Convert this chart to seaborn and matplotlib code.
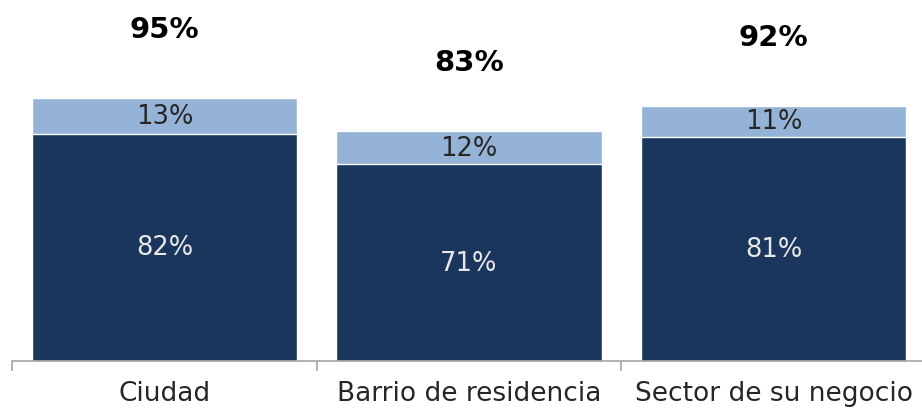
import matplotlib
matplotlib.use("Agg")
import matplotlib.pyplot as plt
import seaborn as sns
import pandas as pd

# Data
categories = ["Ciudad", "Barrio de residencia", "Sector de su negocio"]
base_values = [82, 71, 81]      # dark segment
top_values = [13, 12, 11]       # light segment
totals = [95, 83, 92]

dark = "#1B365D"
light = "#95B3D7"

sns.set_theme(style="white")
plt.rcParams['font.family'] = ['DejaVu Sans']

df = pd.DataFrame({"cat": categories, "base": base_values,
                   "top": top_values, "total": totals})

fig = plt.figure(figsize=(9.22, 4.14), dpi=100)
ax = fig.add_axes([12 / 922, 52 / 414, 914 / 922, 362 / 414])

# stacked bars: draw totals in light, then base in dark over it
sns.barplot(data=df, x="cat", y="total", color=light, width=0.87,
            saturation=1, ax=ax)
sns.barplot(data=df, x="cat", y="base", color=dark, width=0.87,
            saturation=1, ax=ax)

for i, row in df.iterrows():
    ax.text(i, row["base"] / 2, f"{row['base']}%", ha="center", va="center",
            fontsize=18.5, color="#E8E8E8")
    ax.text(i, row["base"] + row["top"] / 2, f"{row['top']}%", ha="center",
            va="center", fontsize=18.5, color="#262626")
    ax.text(i, row["total"] + 25, f"{row['total']}%", ha="center",
            va="center", fontsize=21, fontweight="bold", color="black")

ax.set_xlim(-0.5, 2.5)
ax.set_ylim(0, 130.7)
ax.set_xlabel("")
ax.set_ylabel("")
ax.set_yticks([])

for side in ["top", "right", "left"]:
    ax.spines[side].set_visible(False)
ax.spines["bottom"].set_color("#A6A6A6")
ax.spines["bottom"].set_linewidth(1.2)

ax.set_xticks([-0.5, 0.5, 1.5, 2.5], minor=True)
ax.tick_params(axis="x", which="minor", length=7, width=1.2,
               color="#A6A6A6", direction="out", bottom=True)
ax.tick_params(axis="x", which="major", length=0, pad=14,
               labelsize=19, labelcolor="#262626")

fig.savefig("out.png", dpi=100)
